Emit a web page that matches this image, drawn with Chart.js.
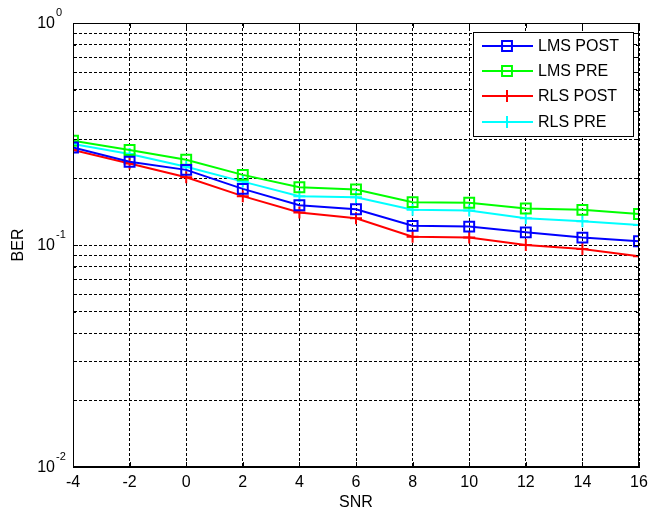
<!DOCTYPE html>
<html>
<head>
<meta charset="utf-8">
<script src="https://cdn.jsdelivr.net/npm/chart.js@4/dist/chart.umd.min.js"></script>
<style>
  body { margin: 0; background: #fff; }
  #wrap { width: 649px; height: 512px; }
</style>
</head>
<body>
<div id="wrap"><canvas id="berChart" width="649" height="512"></canvas></div>
<script>
const snr = [-4, -2, 0, 2, 4, 6, 8, 10, 12, 14, 16]
const lmsPost = [0.275, 0.237, 0.218, 0.179, 0.151, 0.145, 0.122, 0.121, 0.114, 0.108, 0.104]
const lmsPre = [0.295, 0.268, 0.242, 0.207, 0.182, 0.178, 0.156, 0.155, 0.146, 0.144, 0.138]
const rlsPost = [0.268, 0.233, 0.202, 0.166, 0.140, 0.132, 0.109, 0.108, 0.100, 0.096, 0.089]
const rlsPre = [0.285, 0.257, 0.225, 0.193, 0.166, 0.164, 0.144, 0.143, 0.132, 0.128, 0.123]
const yTicks = [0.01, 0.02, 0.03, 0.04, 0.05, 0.06, 0.07, 0.08, 0.09,
                0.1, 0.2, 0.3, 0.4, 0.5, 0.6, 0.7, 0.8, 0.9, 1]
const decades = [[0.01, '-2'], [0.1, '-1'], [1, '0']]

const FONT = '"Liberation Sans", Arial, sans-serif'

const toXY = (arr) => arr.map((v, i) => ({x: snr[i], y: v}))

function series(label, values, color, style, radius) {
    return {
        label: label,
        data: toXY(values),
        borderColor: color,
        backgroundColor: color,
        borderWidth: 2,
        pointStyle: style,
        pointRadius: radius,
        pointHoverRadius: radius,
        pointBorderWidth: 2,
        pointBorderColor: color,
        pointBackgroundColor: 'rgba(0,0,0,0)',
        tension: 0
    }
}

// box, inward ticks, decade labels, legend (matlab look)
const matlabAxes = {
    id: 'matlabAxes',
    afterDraw(chart) {
        const ctx = chart.ctx
        const a = chart.chartArea
        const xs = chart.scales.x
        const ys = chart.scales.y
        ctx.save()
        ctx.strokeStyle = '#000'
        ctx.lineWidth = 1
        ctx.setLineDash([])
        ctx.strokeRect(a.left + 0.5, a.top + 0.5, a.right - a.left - 1, a.bottom - a.top - 1)

        // ticks pointing in
        ctx.beginPath()
        xs.ticks.forEach(t => {
            const px = Math.round(xs.getPixelForValue(t.value)) + 0.5
            ctx.moveTo(px, a.bottom); ctx.lineTo(px, a.bottom - 5)
            ctx.moveTo(px, a.top); ctx.lineTo(px, a.top + 5)
        })
        yTicks.forEach(v => {
            const py = Math.round(ys.getPixelForValue(v)) + 0.5
            const len = decades.some(d => d[0] === v) ? 5 : 3
            ctx.moveTo(a.left, py); ctx.lineTo(a.left + len, py)
            ctx.moveTo(a.right, py); ctx.lineTo(a.right - len, py)
        })
        ctx.stroke()

        // 10^n labels
        ctx.fillStyle = '#000'
        decades.forEach(d => {
            const py = ys.getPixelForValue(d[0])
            ctx.font = '16px ' + FONT
            ctx.textAlign = 'right'
            ctx.textBaseline = 'middle'
            ctx.fillText('10', 55, py + 1)
            ctx.font = '11px ' + FONT
            ctx.textAlign = 'left'
            ctx.fillText(d[1], 56, py - 10)
        })

        // legend
        const lx = 473, ly = 32, lw = 160, lh = 104
        ctx.fillStyle = '#fff'
        ctx.fillRect(lx, ly, lw, lh)
        ctx.strokeStyle = '#000'
        ctx.strokeRect(lx + 0.5, ly + 0.5, lw, lh)
        const rows = [46, 71, 96, 122]
        chart.data.datasets.forEach((ds, i) => {
            const y = rows[i]
            ctx.strokeStyle = ds.borderColor
            ctx.lineWidth = 2
            ctx.beginPath()
            ctx.moveTo(482, y); ctx.lineTo(533, y)
            ctx.stroke()
            ctx.fillStyle = 'rgba(0,0,0,0)'
            Chart.helpers.drawPoint(ctx, {
                pointStyle: ds.pointStyle,
                radius: ds.pointRadius,
                borderWidth: 2,
                rotation: 0
            }, 507, y)
            ctx.fillStyle = '#000'
            ctx.font = '16px ' + FONT
            ctx.textAlign = 'left'
            ctx.textBaseline = 'middle'
            ctx.fillText(ds.label, 538, y + 1)
        })
        ctx.restore()
    }
}

const config = {
    type: 'line',
    data: {
        datasets: [
            series('LMS POST', lmsPost, '#0000ff', 'rect', 7),
            series('LMS PRE', lmsPre, '#00ff00', 'rect', 7),
            series('RLS POST', rlsPost, '#ff0000', 'cross', 6),
            series('RLS PRE', rlsPre, '#00ffff', 'cross', 6)
        ]
    },
    options: {
        responsive: false,
        animation: false,
        devicePixelRatio: 1,
        layout: {padding: {top: 23, right: 10, left: 0, bottom: 0}},
        plugins: {
            legend: {display: false},
            tooltip: {enabled: false}
        },
        scales: {
            x: {
                type: 'linear',
                min: -4,
                max: 16,
                ticks: {
                    stepSize: 2,
                    color: '#000',
                    padding: 6,
                    font: {family: FONT, size: 16}
                },
                grid: {color: '#000', lineWidth: 1, drawTicks: false},
                border: {display: true, color: '#000', width: 1, dash: [3, 2]},
                title: {
                    display: true,
                    text: 'SNR',
                    color: '#000',
                    font: {family: FONT, size: 16},
                    padding: {top: 2, bottom: 0}
                },
                afterFit(scale) {
                    scale.height = 45
                    scale.paddingLeft = 0
                    scale.paddingRight = 0
                }
            },
            y: {
                type: 'logarithmic',
                min: 0.01,
                max: 1,
                afterBuildTicks(scale) {
                    scale.ticks = yTicks.map(v => ({value: v}))
                },
                ticks: {display: false},
                grid: {color: '#000', lineWidth: 1, drawTicks: false},
                border: {display: true, color: '#000', width: 1, dash: [3, 2]},
                title: {
                    display: true,
                    text: 'BER',
                    color: '#000',
                    font: {family: FONT, size: 16},
                    padding: {top: 9, bottom: 0}
                },
                afterFit(scale) { scale.width = 73 }
            }
        }
    },
    plugins: [matlabAxes]
}

const berChart = new Chart(document.getElementById('berChart'), config)
</script>
</body>
</html>
